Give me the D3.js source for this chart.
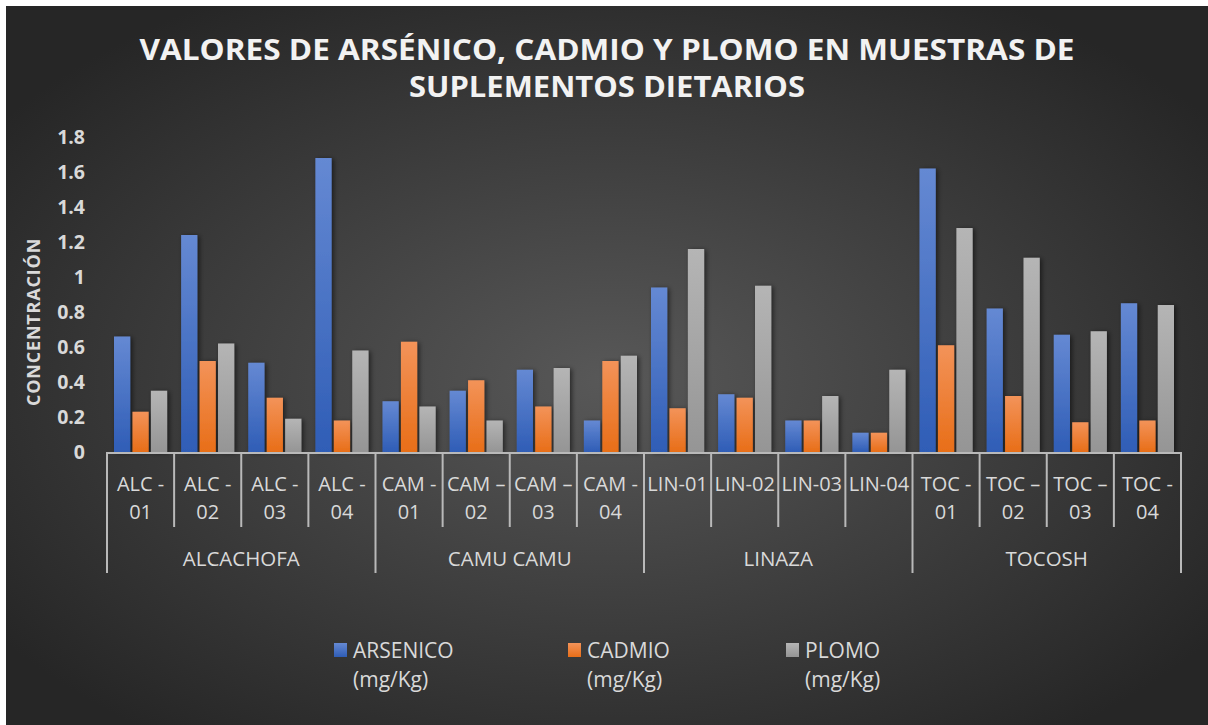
<!DOCTYPE html>
<html>
<head>
<meta charset="utf-8">
<title>Valores de arsénico, cadmio y plomo</title>
<style>
  body { margin: 0; background: #ffffff; }
  svg { display: block; }
  text { font-family: "Open Sans", "Liberation Sans", sans-serif; }
</style>
</head>
<body>
<svg id="chart" width="1208" height="725"></svg>

<script src="https://cdnjs.cloudflare.com/ajax/libs/d3/7.8.5/d3.min.js"></script>
<script>
// data
var categories = ["ALC - 01", "ALC - 02", "ALC - 03", "ALC - 04",
                  "CAM - 01", "CAM – 02", "CAM – 03", "CAM - 04",
                  "LIN-01", "LIN-02", "LIN-03", "LIN-04",
                  "TOC - 01", "TOC – 02", "TOC – 03", "TOC - 04"];
var groups = ["ALCACHOFA", "CAMU CAMU", "LINAZA", "TOCOSH"];
var seriesNames = ["ARSENICO", "CADMIO", "PLOMO"];
var arsenico = [0.66, 1.24, 0.51, 1.68, 0.29, 0.35, 0.47, 0.18, 0.94, 0.33, 0.18, 0.11, 1.62, 0.82, 0.67, 0.85];
var cadmio   = [0.23, 0.52, 0.31, 0.18, 0.63, 0.41, 0.26, 0.52, 0.25, 0.31, 0.18, 0.11, 0.61, 0.32, 0.17, 0.18];
var plomo    = [0.35, 0.62, 0.19, 0.58, 0.26, 0.18, 0.48, 0.55, 1.16, 0.95, 0.32, 0.47, 1.28, 1.11, 0.69, 0.84];
var yTicks = [0, 0.2, 0.4, 0.6, 0.8, 1, 1.2, 1.4, 1.6, 1.8];

var values = [arsenico, cadmio, plomo];
var colors = [
  { top: "#6589d3", bottom: "#2f5db6" },
  { top: "#f39359", bottom: "#e86e18" },
  { top: "#b5b5b5", bottom: "#959595" }
];
var textColor = "#d9d9d9";

var svg = d3.select("#chart");
var defs = svg.append("defs");

var bg = defs.append("radialGradient").attr("id", "bg")
  .attr("cx", "50%").attr("cy", "52%").attr("r", "62%");
bg.append("stop").attr("offset", "0%").attr("stop-color", "#585858");
bg.append("stop").attr("offset", "100%").attr("stop-color", "#262626");

colors.forEach(function (c, i) {
  var g = defs.append("linearGradient").attr("id", "bar" + i)
    .attr("x1", 0).attr("y1", 0).attr("x2", 0).attr("y2", 1);
  g.append("stop").attr("offset", "0%").attr("stop-color", c.top);
  g.append("stop").attr("offset", "100%").attr("stop-color", c.bottom);
});

var shadow = defs.append("filter").attr("id", "shadow")
  .attr("x", "-30%").attr("y", "-10%").attr("width", "180%").attr("height", "130%");
shadow.append("feDropShadow").attr("dx", 2).attr("dy", 1).attr("stdDeviation", 2.5)
  .attr("flood-color", "#000").attr("flood-opacity", 0.55);

svg.append("rect").attr("x", 6).attr("y", 6).attr("width", 1202).attr("height", 719)
  .attr("fill", "url(#bg)");

// title
var title = svg.append("text").attr("text-anchor", "middle")
  .attr("fill", "#f2f2f2").style("font-weight", 700).style("font-size", "28px");
title.append("tspan").attr("x", 607).attr("y", 60).attr("textLength", 935).attr("lengthAdjust", "spacingAndGlyphs")
  .text("VALORES DE ARSÉNICO, CADMIO Y PLOMO EN MUESTRAS DE");
title.append("tspan").attr("x", 607).attr("y", 97).attr("textLength", 396).attr("lengthAdjust", "spacingAndGlyphs")
  .text("SUPLEMENTOS DIETARIOS");

// scales
var plotLeft = 107, plotRight = 1181, plotTop = 137, plotBase = 452;
var x0 = d3.scaleBand().domain(categories).range([plotLeft, plotRight]).padding(0);
var x1 = d3.scaleBand().domain(seriesNames).range([7, x0.bandwidth() - 7]).paddingInner(0.12);
var y = d3.scaleLinear().domain([0, 1.8]).range([plotBase, plotTop]);

// y axis
var yAxis = svg.append("g").attr("transform", "translate(" + (plotLeft - 22) + ",0)")
  .call(d3.axisLeft(y).tickValues(yTicks).tickSize(0).tickPadding(0).tickFormat(function (d) { return String(d); }));
yAxis.select(".domain").remove();
yAxis.selectAll("text").attr("fill", textColor)
  .style("font-family", "'Open Sans', sans-serif").style("font-size", "19.5px").style("font-weight", 700);

svg.append("text")
  .attr("transform", "translate(40,322) rotate(-90)")
  .attr("text-anchor", "middle").attr("fill", textColor)
  .style("font-size", "18px").style("font-weight", 700).style("letter-spacing", "0.8px")
  .text("CONCENTRACIÓN");

// bars
var series = svg.append("g").selectAll("g").data(seriesNames).join("g")
  .attr("fill", function (d, i) { return "url(#bar" + i + ")"; })
  .attr("filter", "url(#shadow)");
series.selectAll("rect")
  .data(function (d, i) { return values[i].map(function (v, j) { return { s: d, c: categories[j], v: v }; }); })
  .join("rect")
  .attr("x", function (d) { return x0(d.c) + x1(d.s); })
  .attr("width", x1.bandwidth())
  .attr("y", function (d) { return y(d.v); })
  .attr("height", function (d) { return plotBase - y(d.v); });

// x axis: line, category ticks, group ticks
var axisColor = "#b9b9b9";
var xAxis = svg.append("g");
xAxis.append("line").attr("x1", plotLeft).attr("x2", plotRight).attr("y1", plotBase + 1).attr("y2", plotBase + 1)
  .attr("stroke", axisColor).attr("stroke-width", 2);

var edges = categories.map(function (c) { return x0(c); }).concat([plotRight]);
xAxis.selectAll("line.tick").data(edges).join("line").attr("class", "tick")
  .attr("x1", function (d) { return d; }).attr("x2", function (d) { return d; })
  .attr("y1", plotBase).attr("y2", function (d, i) { return i % 4 === 0 ? 573 : 527; })
  .attr("stroke", axisColor).attr("stroke-width", 2);

xAxis.selectAll("text.cat").data(categories).join("text").attr("class", "cat")
  .attr("text-anchor", "middle").attr("fill", textColor).style("font-size", "20px")
  .each(function (d) {
    var cx = x0(d) + x0.bandwidth() / 2;
    var k = d.lastIndexOf(" ");
    var lines = k < 0 ? [d] : [d.slice(0, k), d.slice(k + 1)];
    var t = d3.select(this);
    lines.forEach(function (l, i) {
      t.append("tspan").attr("x", cx).attr("y", 491 + i * 28).text(l);
    });
  });

xAxis.selectAll("text.grp").data(groups).join("text").attr("class", "grp")
  .attr("text-anchor", "middle").attr("fill", textColor).style("font-size", "20.5px")
  .attr("x", function (d, i) { return (edges[i * 4] + edges[i * 4 + 4]) / 2; })
  .attr("y", 566)
  .text(function (d) { return d; });

// legend
var legendX = [334, 568, 786];
var legend = svg.append("g").selectAll("g").data(seriesNames).join("g")
  .attr("transform", function (d, i) { return "translate(" + legendX[i] + ",643)"; });
legend.append("rect").attr("width", 13).attr("height", 14)
  .attr("fill", function (d, i) { return "url(#bar" + i + ")"; });
var lt = legend.append("text").attr("fill", textColor).style("font-size", "21px");
lt.append("tspan").attr("x", 19).attr("y", 15).text(function (d) { return d; });
lt.append("tspan").attr("x", 19).attr("y", 44).text("(mg/Kg)");
</script>
</body>
</html>
